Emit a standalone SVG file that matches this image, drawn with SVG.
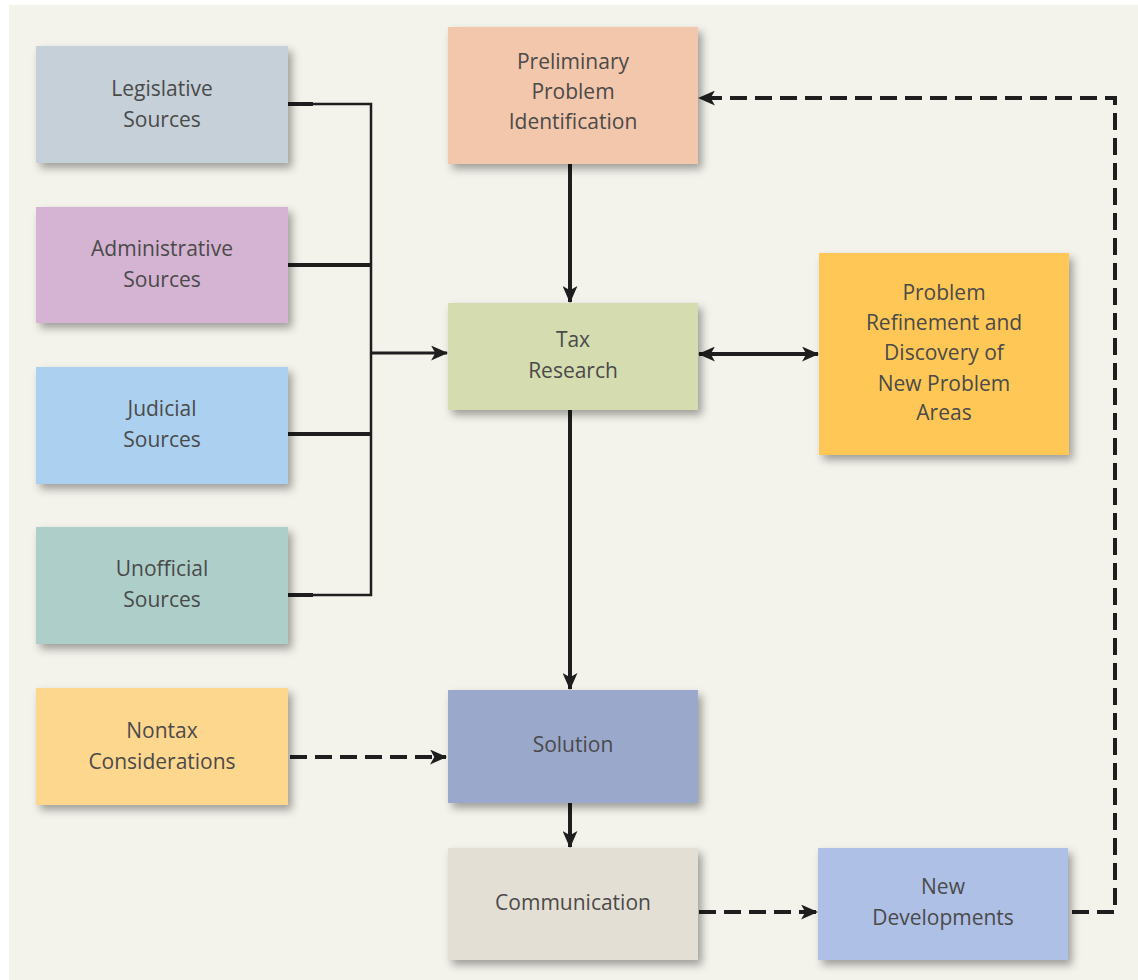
<svg xmlns="http://www.w3.org/2000/svg" width="1138" height="980" viewBox="0 0 1138 980">
<defs>
<filter id="sh" x="-10%" y="-10%" width="130%" height="130%">
<feDropShadow dx="4" dy="5" stdDeviation="4" flood-color="#000" flood-opacity="0.35"/>
</filter>
<marker id="ah" viewBox="0 0 16 14" refX="15" refY="7" markerWidth="17" markerHeight="15" markerUnits="userSpaceOnUse" orient="auto-start-reverse">
<path d="M0,0 L16,7 L0,14 L4,7 Z" fill="#1e1e1e"/>
</marker>
</defs>
<style>
.box{filter:url(#sh);}
.t{font-family:"Open Sans","Liberation Sans",sans-serif;font-size:21px;fill:#4a4a4a;text-anchor:middle;}
.ln{stroke:#1e1e1e;fill:none;}
.s{stroke-width:3;}
.d{stroke-width:4;stroke-dasharray:17 8;}
</style>
<rect x="0" y="0" width="1138" height="980" fill="#ffffff"/>
<rect x="9" y="5" width="1129" height="975" fill="#f3f2eb"/>

<g id="connectors">
<line class="ln" x1="288" y1="104" x2="313" y2="104" stroke-width="4"/>
<polyline class="ln" points="313,104 371,104 371,595 313,595" stroke-width="2.5"/>
<line class="ln" x1="288" y1="595" x2="313" y2="595" stroke-width="4"/>
<line class="ln" x1="288" y1="265" x2="371" y2="265" stroke-width="4"/>
<line class="ln" x1="288" y1="434" x2="371" y2="434" stroke-width="4"/>
<line class="ln s" x1="371" y1="353" x2="447" y2="353" marker-end="url(#ah)"/>
<line class="ln" x1="570" y1="164" x2="570" y2="302" stroke-width="4" marker-end="url(#ah)"/>
<line class="ln" x1="570" y1="410" x2="570" y2="689" stroke-width="4" marker-end="url(#ah)"/>
<line class="ln" x1="570" y1="803" x2="570" y2="847" stroke-width="4" marker-end="url(#ah)"/>
<line class="ln" x1="699" y1="354" x2="818" y2="354" stroke-width="4" marker-start="url(#ah)" marker-end="url(#ah)"/>
<line class="ln d" x1="290" y1="757" x2="446" y2="757" marker-end="url(#ah)"/>
<line class="ln d" x1="699" y1="912" x2="817" y2="912" marker-end="url(#ah)"/>
<polyline class="ln d" points="1072,912 1115,912 1115,98 699,98" marker-end="url(#ah)"/>
</g>

<g id="legislative">
<rect class="box" x="36" y="46" width="252" height="117" fill="#c5d0d9"/>
<text class="t" x="162" y="96">Legislative</text>
<text class="t" x="162" y="127">Sources</text>
</g>
<g id="administrative">
<rect class="box" x="36" y="207" width="252" height="116" fill="#d5b3d2"/>
<text class="t" x="162" y="256">Administrative</text>
<text class="t" x="162" y="287">Sources</text>
</g>
<g id="judicial">
<rect class="box" x="36" y="367" width="252" height="117" fill="#acd0ef"/>
<text class="t" x="162" y="416">Judicial</text>
<text class="t" x="162" y="447">Sources</text>
</g>
<g id="unofficial">
<rect class="box" x="36" y="527" width="252" height="117" fill="#aecfc9"/>
<text class="t" x="162" y="576">Unofficial</text>
<text class="t" x="162" y="607">Sources</text>
</g>
<g id="nontax">
<rect class="box" x="36" y="688" width="252" height="117" fill="#fed78f"/>
<text class="t" x="162" y="738">Nontax</text>
<text class="t" x="162" y="769">Considerations</text>
</g>
<g id="preliminary">
<rect class="box" x="448" y="27" width="250" height="137" fill="#f2c7ab"/>
<text class="t" x="573" y="69">Preliminary</text>
<text class="t" x="573" y="99">Problem</text>
<text class="t" x="573" y="129">Identification</text>
</g>
<g id="tax-research">
<rect class="box" x="448" y="303" width="250" height="107" fill="#d4dcb0"/>
<text class="t" x="573" y="347">Tax</text>
<text class="t" x="573" y="378">Research</text>
</g>
<g id="problem-refinement">
<rect class="box" x="819" y="253" width="250" height="202" fill="#ffc857"/>
<text class="t" x="944" y="300">Problem</text>
<text class="t" x="944" y="330">Refinement and</text>
<text class="t" x="944" y="360">Discovery of</text>
<text class="t" x="944" y="391">New Problem</text>
<text class="t" x="944" y="420">Areas</text>
</g>
<g id="solution">
<rect class="box" x="448" y="690" width="250" height="113" fill="#9aa8cb"/>
<text class="t" x="573" y="752">Solution</text>
</g>
<g id="communication">
<rect class="box" x="448" y="848" width="250" height="112" fill="#e4dfd4"/>
<text class="t" x="573" y="910">Communication</text>
</g>
<g id="new-developments">
<rect class="box" x="818" y="848" width="250" height="112" fill="#aec0e5"/>
<text class="t" x="943" y="894">New</text>
<text class="t" x="943" y="925">Developments</text>
</g>
</svg>
